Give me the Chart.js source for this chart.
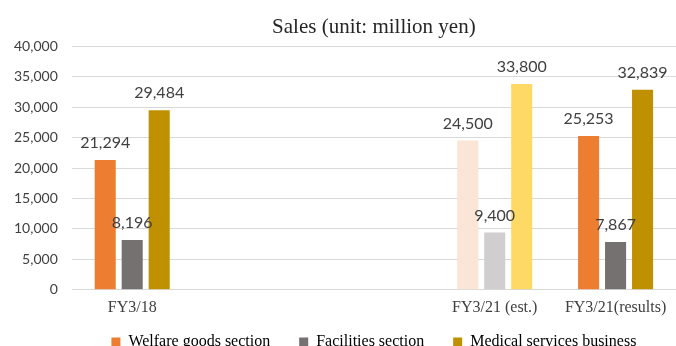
<!DOCTYPE html>
<html>
<head>
<meta charset="utf-8">
<script src="https://cdn.jsdelivr.net/npm/chart.js@4/dist/chart.umd.min.js"></script>
<style>
  html, body { margin: 0; padding: 0; background: #fff; }
  #wrap { width: 676px; height: 346px; }
</style>
</head>
<body>
<div id="wrap"><canvas id="c" width="676" height="346"></canvas></div>
<script>
// categories (two blank slots keep the gap between FY3/18 and FY3/21)
var categories = ['FY3/18', '', '', 'FY3/21 (est.)', 'FY3/21(results)'];
var seriesNames = ['Welfare goods section', 'Facilities section', 'Medical services business'];
var welfare = [21294, null, null, 24500, 25253];
var facilities = [8196, null, null, 9400, 7867];
var medical = [29484, null, null, 33800, 32839];
var yTicks = [0, 5000, 10000, 15000, 20000, 25000, 30000, 35000, 40000];

var solidColors = ['#ED7D31', '#767171', '#BF9000'];
var estColors = ['#FBE5D6', '#D0CECE', '#FFD966'];
var estIndex = 3;

function colorFor(series) {
    return function(ctx) {
        if (ctx.dataIndex === estIndex) return estColors[series];
        return solidColors[series];
    };
}

var valueLabels = {
    id: 'valueLabels',
    afterDatasetsDraw: function(chart) {
        var c = chart.ctx;
        c.save();
        c.font = '16px Lato';
        c.fillStyle = '#404040';
        c.textAlign = 'center';
        c.textBaseline = 'middle';
        chart.data.datasets.forEach(function(ds, i) {
            var meta = chart.getDatasetMeta(i);
            meta.data.forEach(function(bar, j) {
                var v = ds.data[j];
                if (v === null || v === undefined) return;
                c.fillText(v.toLocaleString('en-US'), bar.x, bar.y - 17);
            });
        });
        c.restore();
    }
};

new Chart(document.getElementById('c'), {
    type: 'bar',
    data: {
        labels: categories,
        datasets: [
            { label: seriesNames[0], data: welfare, backgroundColor: colorFor(0) },
            { label: seriesNames[1], data: facilities, backgroundColor: colorFor(1) },
            { label: seriesNames[2], data: medical, backgroundColor: colorFor(2) }
        ]
    },
    options: {
        responsive: false,
        animation: false,
        categoryPercentage: 0.67,
        barPercentage: 0.78,
        layout: { padding: { left: 0, right: 0, top: 0, bottom: -14 } },
        scales: {
            x: {
                grid: { display: false, drawTicks: false },
                border: { display: false },
                ticks: {
                    color: '#404040',
                    font: { family: 'Liberation Serif', size: 16 },
                    padding: 8,
                    maxRotation: 0,
                    autoSkip: false
                }
            },
            y: {
                min: 0,
                max: 40000,
                afterBuildTicks: function(axis) {
                    axis.ticks = yTicks.map(function(v) { return { value: v }; });
                },
                grid: { color: '#D9D9D9', lineWidth: 1, drawTicks: false },
                border: { display: false },
                ticks: {
                    color: '#404040',
                    font: { family: 'Lato', size: 14 },
                    padding: 14,
                    callback: function(v) { return v.toLocaleString('en-US'); }
                }
            }
        },
        plugins: {
            title: {
                display: true,
                text: 'Sales (unit: million yen)',
                fullSize: false,
                color: '#262626',
                font: { family: 'Liberation Serif', size: 21, weight: 'normal' },
                padding: { top: 15, bottom: 6 }
            },
            legend: {
                position: 'bottom',
                fullSize: false,
                labels: {
                    color: '#404040',
                    font: { family: 'Liberation Serif', size: 16 },
                    boxWidth: 9,
                    boxHeight: 9,
                    padding: 9,
                    generateLabels: function(chart) {
                        return seriesNames.map(function(name, i) {
                            // trailing spaces widen the gap between entries
                            var pad = i < seriesNames.length - 1 ? '     ' : '';
                            return {
                                text: name + pad,
                                fillStyle: solidColors[i],
                                strokeStyle: solidColors[i],
                                lineWidth: 0,
                                datasetIndex: i,
                                hidden: false
                            };
                        });
                    }
                }
            },
            tooltip: { enabled: false }
        }
    },
    plugins: [valueLabels]
});
</script>
</body>
</html>
